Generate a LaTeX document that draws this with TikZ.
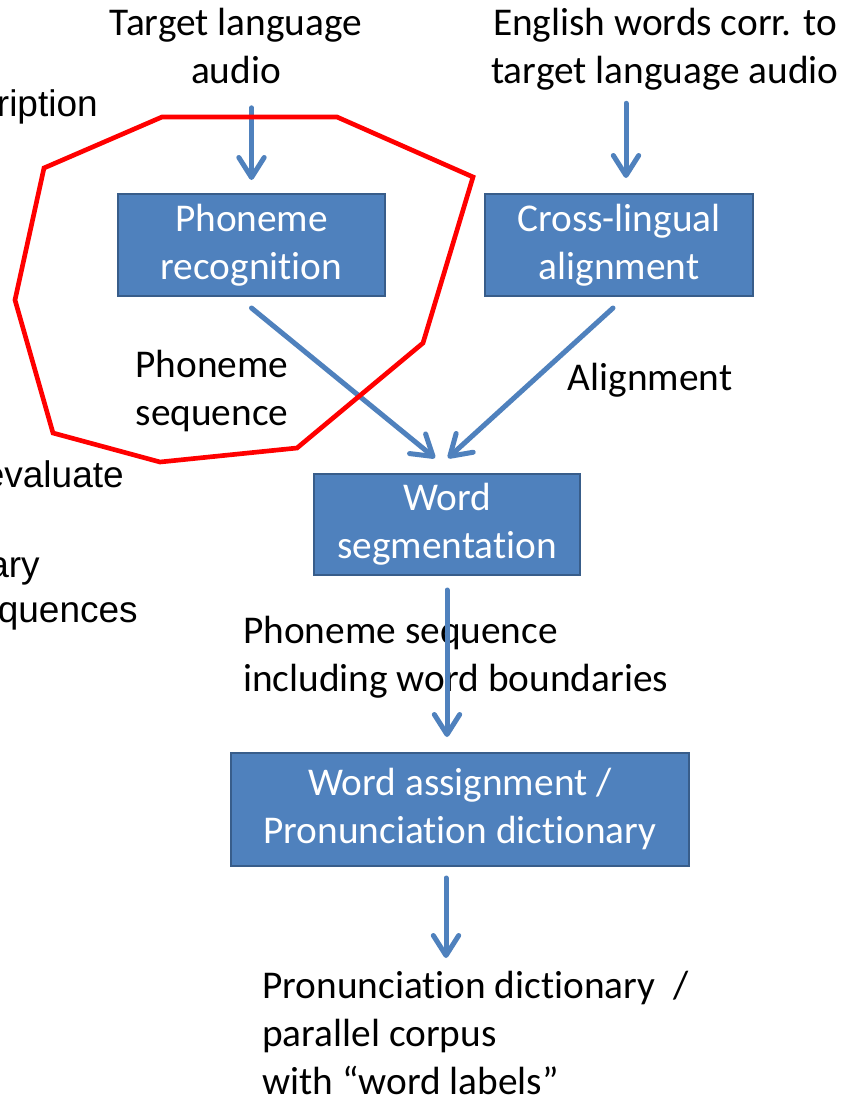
\documentclass[tikz,border=0pt]{standalone}
\usepackage{fontspec}
\setmainfont{Carlito}[Ligatures=NoCommon]
\newfontfamily\arialf{Liberation Sans}
\usetikzlibrary{arrows.meta,calc}
\definecolor{boxfill}{HTML}{4F81BD}
\definecolor{boxline}{HTML}{385D8A}
\definecolor{arrblue}{HTML}{4F81BD}
\newcommand\tstrut{\rule{0pt}{30pt}}
\begin{document}
\begin{tikzpicture}[x=0.75pt,y=-0.75pt,
  proc/.style={draw=boxline, line width=1.5pt, fill=boxfill, text=white, align=center, inner sep=0pt, font=\fontsize{29.5pt}{36pt}\selectfont},
  lbl/.style={inner sep=0pt, font=\fontsize{29.5pt}{36pt}\selectfont},
  arr/.style={draw=arrblue, line width=3.75pt, line cap=round, -{Straight Barb[length=15pt,width=19pt,round]}},
  frag/.style={inner sep=0pt, font=\arialf\fontsize{27.75pt}{33pt}\selectfont, anchor=base east},
  ring/.style={draw=red, line width=3.5pt}]
\useasboundingbox (0,0) rectangle (841,1099);
\fill[white] (0,0) rectangle (841,1099);

% left fragments
\node[frag] (f1) at (98,117) {ription};
\node[frag] (f2) at (124,487) {evaluate};
\node[frag] (f3) at (40,577) {ary};
\node[frag] (f4) at (138,622) {quences};

% labels
\node[lbl, align=center, anchor=north] (A) at (236,-5) {\tstrut Target language\\audio};
\node[lbl, align=center, anchor=north] (B) at (665,-5) {\tstrut English words corr. to\\target language audio};
\node[lbl, align=center, anchor=north] (C) at (212,337) {\tstrut Phoneme\\sequence};
\node[lbl, anchor=base] (D) at (650,390) {Alignment};
\node[lbl, align=left, anchor=north west] (E) at (243,603) {\tstrut Phoneme sequence\\including word boundaries};
\node[lbl, align=left, anchor=north west] (F) at (262,958) {\tstrut Pronunciation dictionary~~/\\parallel corpus\\with “word labels”};

% boxes
\node[proc, minimum width=200.25pt, minimum height=76.5pt] (PR) at (251.5,245) {Phoneme\\recognition};
\node[proc, minimum width=201pt, minimum height=76.5pt] (CL) at (619,245) {Cross-lingual\\alignment};
\node[proc, minimum width=199.5pt, minimum height=75.75pt] (WS) at (447,524.5) {Word\\segmentation};
\node[proc, minimum width=343.5pt, minimum height=84.75pt] (WA) at (460,809.5) {Word assignment /\\Pronunciation dictionary};

% connectors
\draw[arr] ($(A.south -| PR.north)+(0,24)$) -- ($(PR.north)+(0,-13)$);
\draw[arr] ($(B.south -| CL.north)+(7,13)$) -- ($(CL.north)+(7,-15)$);
\draw[arr] ($(PR.south)+(0,11)$) -- ($(WS.north)+(-12,-15)$);
\draw[arr] ($(CL.south)+(-6,11)$) -- ($(WS.north)+(1,-15)$);
\draw[arr] ($(WS.south)+(0,14)$) -- ($(WS.south |- WA.north)+(0,-15)$);
\draw[arr] ($(WA.south)+(-14,11)$) -- ($(F.north west)+(184,0)$);

% red annotation ring
\draw[ring] (162,117) -- (337,117) -- (473,177) -- (423,343) -- (297,448)
  -- (160,462) -- (53,433) -- (15,300) -- (44,168) -- cycle;
\end{tikzpicture}
\end{document}
